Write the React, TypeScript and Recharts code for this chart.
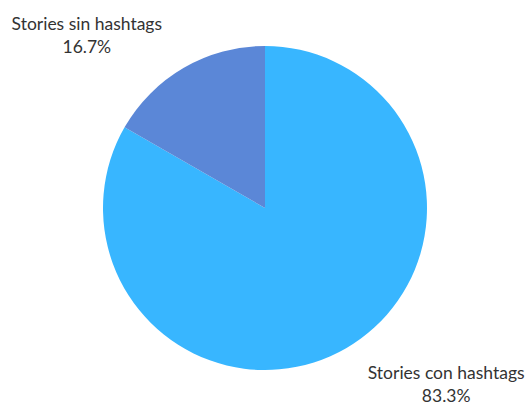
import { PieChart, Pie, Cell } from 'recharts'

const labels = ['Stories con hashtags', 'Stories sin hashtags']
const values = [83.3, 16.7]
const colors = ['#38b6ff', '#5b87d7']

const data = labels.map((name, i) => ({ name, value: values[i] }))

const RADIAN = Math.PI / 180

const renderLabel = (props: any) => {
  const { cx, cy, midAngle, outerRadius, name, value } = props
  const r = outerRadius + 38
  const x = cx + r * Math.cos(-midAngle * RADIAN)
  const y = cy + r * Math.sin(-midAngle * RADIAN)
  const left = x < cx
  const tx = left ? x - 78 : x + 81
  return (
    <text x={tx} y={y} textAnchor="middle" fill="#333" fontSize={17.5} fontFamily="Lato, sans-serif">
      <tspan x={tx} dy={left ? -5 : -2}>{name}</tspan>
      <tspan x={tx} dy={23}>{value.toFixed(1)}%</tspan>
    </text>
  )
}

export default function App() {
  return (
    <div style={{ position: 'absolute', left: 0, top: 0, background: '#fff' }}>
      <PieChart width={527} height={403} margin={{ top: 0, right: 0, bottom: 0, left: 0 }}>
        <Pie
          data={data}
          dataKey="value"
          nameKey="name"
          cx={265}
          cy={208}
          outerRadius={162}
          startAngle={90}
          endAngle={-270}
          stroke="none"
          label={renderLabel}
          labelLine={false}
          isAnimationActive={false}
        >
          {data.map((d, i) => (
            <Cell key={d.name} fill={colors[i]} />
          ))}
        </Pie>
      </PieChart>
    </div>
  )
}
